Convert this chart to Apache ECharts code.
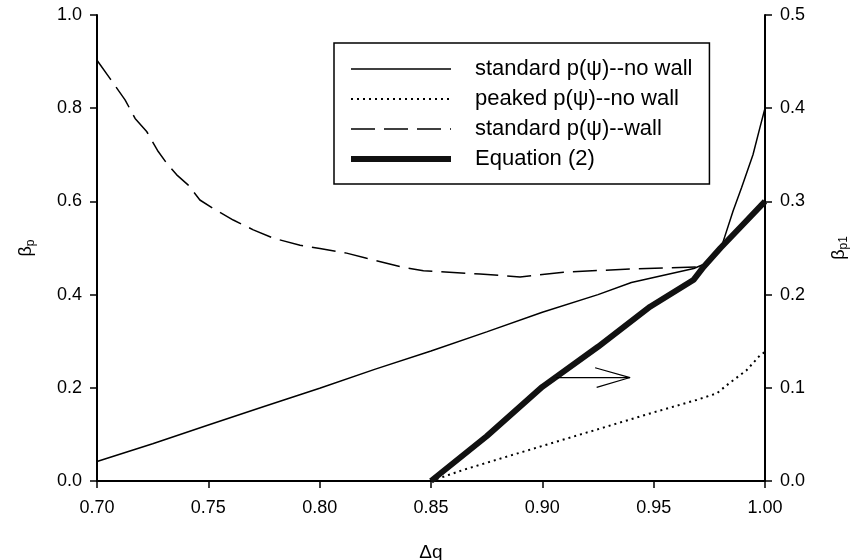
<!DOCTYPE html>
<html>
<head>
<meta charset="utf-8">
<script src="https://cdn.jsdelivr.net/npm/echarts@6/dist/echarts.min.js"></script>
<style>
  html, body { margin: 0; padding: 0; background: #fff; }
  #chart { width: 861px; height: 560px; }
</style>
</head>
<body>
<div id="chart"></div>
<script>
// x ticks and axis ranges
const xTicks = [0.70, 0.75, 0.80, 0.85, 0.90, 0.95, 1.00];
const leftTicks = [0.0, 0.2, 0.4, 0.6, 0.8, 1.0];
const rightTicks = [0.0, 0.1, 0.2, 0.3, 0.4, 0.5];

const seriesNames = [
    'standard p(ψ)--no wall',
    'peaked p(ψ)--no wall',
    'standard p(ψ)--wall',
    'Equation (2)'
];

// standard p(psi), no wall  (beta_p, left axis)
const stdNoWallQ = [0.70, 0.725, 0.75, 0.775, 0.80, 0.825, 0.85, 0.875, 0.90, 0.925, 0.94, 0.955, 0.968, 0.975, 0.98, 0.9857, 0.9895, 0.9946, 0.9978, 1.00];
const stdNoWallB = [0.042, 0.080, 0.120, 0.160, 0.199, 0.240, 0.279, 0.320, 0.362, 0.400, 0.426, 0.442, 0.456, 0.470, 0.496, 0.580, 0.630, 0.700, 0.760, 0.800];

// peaked p(psi), no wall
const peakedQ = [0.85, 0.8646, 0.8915, 0.9214, 0.9484, 0.9693, 0.9783, 0.984, 0.9918, 0.9978, 1.00];
const peakedB = [0.000, 0.024, 0.063, 0.106, 0.145, 0.174, 0.188, 0.210, 0.238, 0.270, 0.277];

// standard p(psi), wall
const wallQ = [0.70, 0.7058, 0.7126, 0.7171, 0.7223, 0.7275, 0.7313, 0.7358, 0.741, 0.7462, 0.7522, 0.7612, 0.7702, 0.7792, 0.7912, 0.8001, 0.8121, 0.8211, 0.8361, 0.8466, 0.872, 0.89, 0.9095, 0.935, 0.9723];
const wallB = [0.903, 0.864, 0.818, 0.778, 0.750, 0.707, 0.682, 0.657, 0.635, 0.603, 0.585, 0.560, 0.539, 0.521, 0.506, 0.499, 0.489, 0.478, 0.460, 0.451, 0.444, 0.438, 0.448, 0.454, 0.460];

// Equation (2)  (beta_p1, right axis)
const eqQ = [0.85, 0.875, 0.90, 0.925, 0.9484, 0.968, 0.9725, 0.98, 0.99, 1.00];
const eqB = [0.000, 0.048, 0.101, 0.144, 0.187, 0.216, 0.230, 0.250, 0.275, 0.300];

// arrow annotation pointing to the right axis (left-axis units)
const arrowShaft = [[0.9063, 0.222], [0.9394, 0.222]];
const arrowHead = [[0.9237, 0.243], [0.9394, 0.222], [0.9244, 0.201]];

const zip = (xs, ys) => xs.map((x, i) => [x, ys[i]]);

const FONT = 'Liberation Sans, Arial, sans-serif';
const labelStyle = { color: '#000', fontFamily: FONT, fontSize: 18 };
const nameRich = {
    b: { color: '#000', fontFamily: FONT, fontSize: 18 },
    s: { color: '#000', fontFamily: FONT, fontSize: 12, verticalAlign: 'bottom', padding: [10, 0, 0, 0] }
};

const chart = echarts.init(document.getElementById('chart'), null, { renderer: 'canvas' });

const option = {
    animation: false,
    backgroundColor: '#fff',
    grid: { left: 97, right: 96, top: 15, bottom: 79, containLabel: false, outerBoundsMode: 'none' },
    legend: {
        left: 334,
        top: 43,
        orient: 'vertical',
        data: [
            { name: seriesNames[0], lineStyle: { width: 1.5 } },
            { name: seriesNames[1], lineStyle: { width: 2 } },
            { name: seriesNames[2], lineStyle: { width: 1.5 } },
            { name: seriesNames[3], lineStyle: { width: 6 } }
        ],
        itemWidth: 100,
        itemHeight: 22,
        itemGap: 8,
        padding: [15, 17, 14, 14],
        borderColor: '#000',
        borderWidth: 1.5,
        borderRadius: 0,
        selectedMode: false,
        itemStyle: { opacity: 0 },
        textStyle: { color: '#000', fontFamily: FONT, fontSize: 22, padding: [0, 0, 0, 19] }
    },
    xAxis: [{
        type: 'value',
        min: xTicks[0],
        max: xTicks[xTicks.length - 1],
        interval: 0.05,
        name: 'Δq',
        nameLocation: 'middle',
        nameGap: 62,
        nameTextStyle: { color: '#000', fontFamily: FONT, fontSize: 19 },
        axisLine: { lineStyle: { color: '#000', width: 2 } },
        axisTick: { show: true, length: 7, lineStyle: { color: '#000', width: 1.5 } },
        axisLabel: Object.assign({ margin: 18, formatter: v => v.toFixed(2) }, labelStyle),
        splitLine: { show: false }
    }, {
        type: 'value',
        position: 'top',
        min: xTicks[0],
        max: xTicks[xTicks.length - 1],
        axisLine: { lineStyle: { color: '#000', width: 2 } },
        axisTick: { show: false },
        axisLabel: { show: false },
        splitLine: { show: false }
    }],
    yAxis: [{
        type: 'value',
        min: leftTicks[0],
        max: leftTicks[leftTicks.length - 1],
        interval: 0.2,
        name: '{b|β}{s|p}',
        nameLocation: 'middle',
        nameRotate: 90,
        nameGap: 60,
        nameTextStyle: { rich: nameRich },
        axisLine: { show: true, lineStyle: { color: '#000', width: 2 } },
        axisTick: { show: true, length: 7, lineStyle: { color: '#000', width: 1.5 } },
        axisLabel: Object.assign({ margin: 15, formatter: v => v.toFixed(1) }, labelStyle),
        splitLine: { show: false }
    }, {
        type: 'value',
        position: 'right',
        min: rightTicks[0],
        max: rightTicks[rightTicks.length - 1],
        interval: 0.1,
        name: '{b|β}{s|p1}',
        nameLocation: 'middle',
        nameRotate: 90,
        nameGap: 63,
        nameTextStyle: { rich: nameRich },
        axisLine: { show: true, lineStyle: { color: '#000', width: 2 } },
        axisTick: { show: true, length: 7, lineStyle: { color: '#000', width: 1.5 } },
        axisLabel: Object.assign({ margin: 15, formatter: v => v.toFixed(1) }, labelStyle),
        splitLine: { show: false }
    }],
    series: [{
        name: seriesNames[0],
        type: 'line',
        yAxisIndex: 0,
        symbol: 'none',
        data: zip(stdNoWallQ, stdNoWallB),
        lineStyle: { color: '#000', width: 1.5 },
        itemStyle: { color: '#000' }
    }, {
        name: seriesNames[1],
        type: 'line',
        yAxisIndex: 0,
        symbol: 'none',
        data: zip(peakedQ, peakedB),
        lineStyle: { color: '#000', width: 2, type: [2, 4] },
        itemStyle: { color: '#000' }
    }, {
        name: seriesNames[2],
        type: 'line',
        yAxisIndex: 0,
        symbol: 'none',
        data: zip(wallQ, wallB),
        lineStyle: { color: '#000', width: 1.5, type: [24, 9] },
        itemStyle: { color: '#000' }
    }, {
        name: seriesNames[3],
        type: 'line',
        yAxisIndex: 1,
        symbol: 'none',
        data: zip(eqQ, eqB),
        lineStyle: { color: '#111', width: 6 },
        itemStyle: { color: '#000' }
    }, {
        name: 'arrowShaft',
        type: 'line',
        yAxisIndex: 0,
        symbol: 'none',
        data: arrowShaft,
        lineStyle: { color: '#000', width: 1.2 },
        silent: true
    }, {
        name: 'arrowHead',
        type: 'line',
        yAxisIndex: 0,
        symbol: 'none',
        data: arrowHead,
        lineStyle: { color: '#000', width: 1.2 },
        silent: true
    }]
};

chart.setOption(option);
</script>
</body>
</html>
